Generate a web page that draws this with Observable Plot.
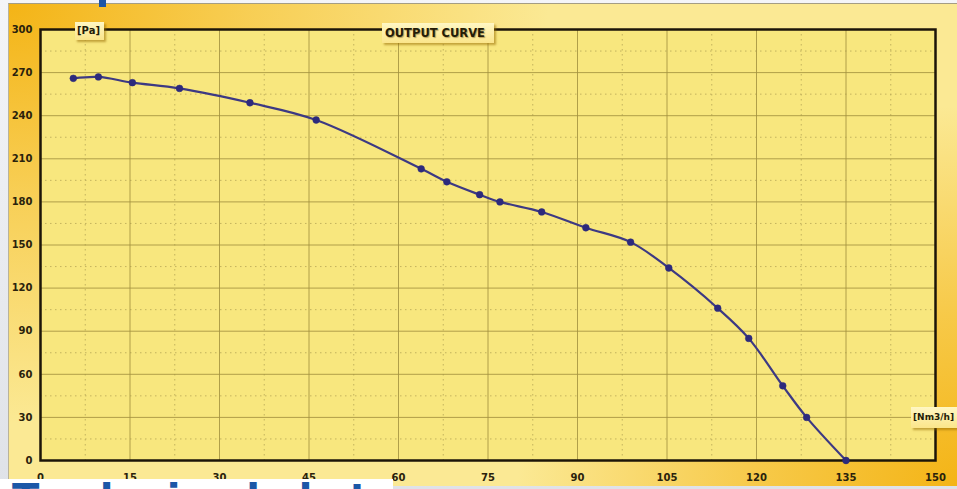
<!DOCTYPE html>
<html>
<head>
<meta charset="utf-8">
<script src="https://cdn.jsdelivr.net/npm/d3@7"></script>
<script src="https://cdn.jsdelivr.net/npm/@observablehq/plot@0.6"></script>
<style>
  html, body { margin: 0; padding: 0; }
  body { width: 957px; height: 489px; overflow: hidden; background: #e4e6eb; font-family: "DejaVu Sans", sans-serif; }
  #wrap { position: relative; width: 957px; height: 489px; overflow: hidden;
    background: linear-gradient(180deg, #f4f5f8 0%, #dfe2e8 100%); }
  #panel { position: absolute; left: 8px; top: 3px; width: 949px; height: 483px;
    border-top: 1px solid #a49d84; border-left: 1px solid #b9b39a; box-sizing: border-box;
    background:
      radial-gradient(ellipse 540px 420px at 0% 0%, rgba(244,180,22,1) 0%, rgba(244,180,22,0.5) 45%, rgba(244,180,22,0) 100%),
      radial-gradient(ellipse 440px 380px at 100% 100%, rgba(244,180,22,1) 0%, rgba(244,180,22,0.6) 45%, rgba(244,180,22,0) 100%),
      #fbe994; }
  #chart { position: absolute; left: 0; top: 0; }
  .tag { position: absolute; background: linear-gradient(180deg,#fff7c4,#fbe58a); color: #241c08;
    font-weight: bold; box-shadow: 2px 2px 2px rgba(150,105,0,0.55); white-space: nowrap; box-sizing: border-box; }
  #pa { left: 75px; top: 22px; width: 29px; height: 18px; font-size: 10px; line-height: 17px; padding-left: 2px; }
  #title { left: 382px; top: 23px; width: 112px; height: 20px; font-size: 11.5px; line-height: 20px; padding-left: 3px;
    text-shadow: 1px 1px 1px rgba(90,60,0,0.45); }
  #unit { left: 911px; top: 407px; width: 50px; height: 21px; font-size: 9px; line-height: 21px; padding-left: 2px; }
  #topbar { position: absolute; left: 99px; top: 0; width: 7px; height: 7px; background: #1b55a6; }
  #tech { position: absolute; left: 0; top: 479px; width: 393px; height: 10px; overflow: hidden; background: #ffffff; }
  #tech span { position: absolute; left: 12px; top: 0; font-size: 40px; line-height: 40px; font-weight: bold;
    color: #1b57a7; letter-spacing: 5px; white-space: nowrap; font-family: "DejaVu Sans", sans-serif; }
</style>
</head>
<body>
<div id="wrap">
  <div id="panel"></div>
  <div id="chart"></div>
  <div class="tag" id="pa">[Pa]</div>
  <div class="tag" id="title">OUTPUT CURVE</div>
  <div class="tag" id="unit">[Nm3/h]</div>
  <div id="topbar"></div>
  <div id="tech"><span>Technical data</span></div>
</div>
<script>
// Data
const flow = [5.5, 9.7, 15.4, 23.3, 35.1, 46.2, 63.8, 68.1, 73.6, 77, 84, 91.4, 98.9, 105.3, 113.5, 118.7, 124.4, 128.4, 135];
const pressure = [266, 267, 263, 259, 249, 237, 203, 194, 185, 180, 173, 162, 152, 134, 106, 85, 52, 30, 0];
const xTicks = [0, 15, 30, 45, 60, 75, 90, 105, 120, 135, 150];
const yTicks = [0, 30, 60, 90, 120, 150, 180, 210, 240, 270, 300];
const xMinor = [7.5, 22.5, 37.5, 52.5, 67.5, 82.5, 97.5, 112.5, 127.5, 142.5];
const yMinor = [15, 45, 75, 105, 135, 165, 195, 225, 255, 285];

const data = flow.map((f, i) => ({flow: f, pressure: pressure[i]}));

const chart = Plot.plot({
  width: 957,
  height: 489,
  marginLeft: 40,
  marginRight: 22,
  marginTop: 29,
  marginBottom: 29,
  style: {background: "transparent", overflow: "visible"},
  x: {domain: [0, 150]},
  y: {domain: [0, 300]},
  marks: [
    Plot.frame({fill: "#f8e77e", stroke: null}),
    Plot.ruleX(xMinor, {stroke: "#b5a656", strokeWidth: 1, strokeDasharray: "1.5,3.5", strokeOpacity: 0.8}),
    Plot.ruleY(yMinor, {stroke: "#b5a656", strokeWidth: 1, strokeDasharray: "1.5,3.5", strokeOpacity: 0.8}),
    Plot.ruleX(xTicks, {stroke: "#a3923f", strokeWidth: 1, strokeOpacity: 0.85}),
    Plot.ruleY(yTicks, {stroke: "#a3923f", strokeWidth: 1, strokeOpacity: 0.85}),
    Plot.frame({stroke: "#1c1508", strokeWidth: 2.5}),
    Plot.line(data, {x: "flow", y: "pressure", curve: "catmull-rom", stroke: "#3d3983", strokeWidth: 2.2}),
    Plot.dot(data, {x: "flow", y: "pressure", r: 3.4, fill: "#2d2a7c", stroke: "#2d2a7c", strokeWidth: 0.5}),
    Plot.axisY(yTicks, {tickSize: 0, tickPadding: 8, fontSize: 10, fontWeight: "bold", fill: "#2a220c", label: null,
      fontFamily: "DejaVu Sans"}),
    Plot.axisX(xTicks, {tickSize: 0, tickPadding: 13, fontSize: 10, fontWeight: "bold", fill: "#2a220c", label: null,
      fontFamily: "DejaVu Sans"})
  ]
});
document.getElementById("chart").appendChild(chart);
</script>
</body>
</html>
